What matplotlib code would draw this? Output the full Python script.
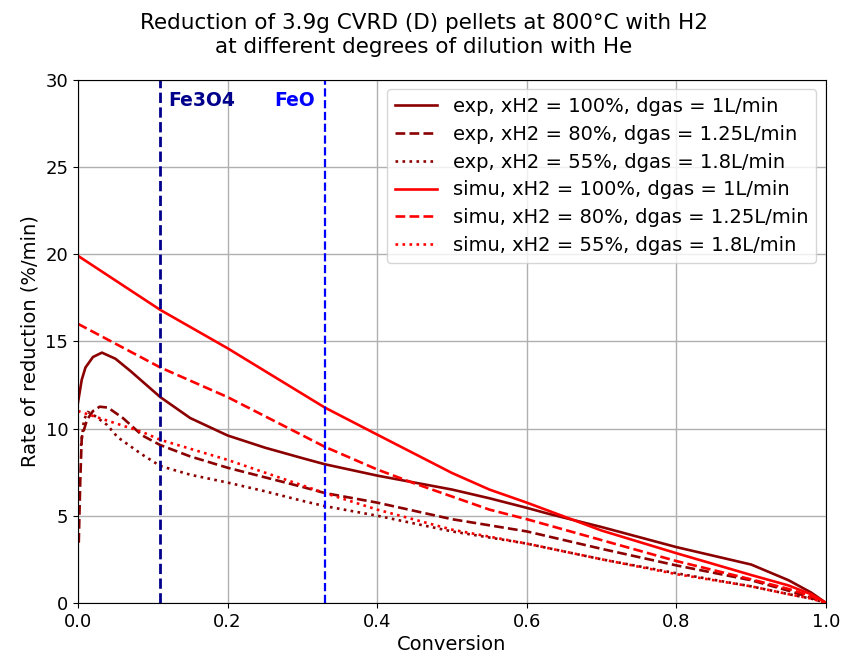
import matplotlib
matplotlib.use("Agg")
import matplotlib.pyplot as plt

# --- data ---
x_simu_100 = [0.0, 0.11, 0.2, 0.33, 0.4, 0.45, 0.5, 0.55, 0.6, 0.7, 0.8, 0.9, 0.95, 0.98, 1.0]
simu_100 = [19.9, 16.8, 14.6, 11.2, 9.65, 8.55, 7.45, 6.5, 5.75, 4.15, 2.85, 1.6, 1.0, 0.5, 0.0]

x_simu_80 = [0.0, 0.11, 0.2, 0.33, 0.4, 0.45, 0.5, 0.55, 0.6, 0.7, 0.8, 0.9, 0.95, 0.98, 1.0]
simu_80 = [16.0, 13.5, 11.8, 8.95, 7.65, 6.85, 6.1, 5.35, 4.8, 3.6, 2.4, 1.35, 0.8, 0.4, 0.0]

x_simu_55 = [0.0, 0.086, 0.11, 0.2, 0.33, 0.4, 0.5, 0.6, 0.7, 0.8, 0.9, 0.95, 0.98, 1.0]
simu_55 = [11.0, 9.8, 9.35, 8.2, 6.3, 5.35, 4.2, 3.4, 2.5, 1.65, 0.95, 0.5, 0.25, 0.0]

x_exp_100 = [0.0, 0.005, 0.01, 0.02, 0.032, 0.05, 0.07, 0.086, 0.11, 0.15, 0.2, 0.25, 0.3, 0.33,
             0.4, 0.45, 0.5, 0.55, 0.6, 0.63, 0.7, 0.8, 0.9, 0.95, 0.98, 1.0]
exp_100 = [11.5, 12.8, 13.5, 14.1, 14.35, 14.0, 13.3, 12.7, 11.8, 10.6, 9.6, 8.9, 8.3, 7.95,
           7.3, 6.9, 6.5, 6.0, 5.45, 5.1, 4.35, 3.2, 2.2, 1.3, 0.6, 0.0]

x_exp_80 = [0.001, 0.003, 0.005, 0.012, 0.02, 0.029, 0.04, 0.05, 0.06, 0.086, 0.11, 0.15, 0.2,
            0.25, 0.3, 0.33, 0.4, 0.5, 0.6, 0.7, 0.8, 0.9, 0.95, 0.98, 1.0]
exp_80 = [3.45, 7.0, 9.5, 10.5, 11.0, 11.25, 11.2, 10.9, 10.6, 9.6, 9.05, 8.4, 7.75,
          7.2, 6.65, 6.3, 5.75, 4.8, 4.1, 3.1, 2.15, 1.3, 0.7, 0.3, 0.0]

x_exp_55 = [0.004, 0.008, 0.013, 0.02, 0.039, 0.053, 0.086, 0.11, 0.15, 0.2, 0.25, 0.3, 0.33,
            0.4, 0.5, 0.6, 0.7, 0.8, 0.9, 0.95, 0.98, 1.0]
exp_55 = [9.0, 10.5, 10.95, 10.8, 10.2, 9.5, 8.5, 7.85, 7.35, 6.9, 6.4, 5.85, 5.55,
          5.0, 4.1, 3.4, 2.5, 1.7, 0.95, 0.5, 0.25, 0.0]

fe3o4_x = 0.11
feo_x = 0.33

labels = ["exp, xH2 = 100%, dgas = 1L/min",
          "exp, xH2 = 80%, dgas = 1.25L/min",
          "exp, xH2 = 55%, dgas = 1.8L/min",
          "simu, xH2 = 100%, dgas = 1L/min",
          "simu, xH2 = 80%, dgas = 1.25L/min",
          "simu, xH2 = 55%, dgas = 1.8L/min"]

fig = plt.figure(figsize=(8.48, 6.64), dpi=100)
ax = fig.add_axes([0.092, 0.092, 0.882, 0.788])

lw = 1.9
ax.plot(x_exp_100, exp_100, color="darkred", ls="-", lw=lw, label=labels[0])
ax.plot(x_exp_80, exp_80, color="darkred", ls="--", lw=lw, label=labels[1])
ax.plot(x_exp_55, exp_55, color="darkred", ls=":", lw=lw, label=labels[2])
ax.plot(x_simu_100, simu_100, color="red", ls="-", lw=lw, label=labels[3])
ax.plot(x_simu_80, simu_80, color="red", ls="--", lw=lw, label=labels[4])
ax.plot(x_simu_55, simu_55, color="red", ls=":", lw=lw, label=labels[5])

ax.axvline(fe3o4_x, color="darkblue", ls="--", lw=2)
ax.axvline(feo_x, color="blue", ls="--", lw=1.6)
ax.text(0.12, 28.8, "Fe3O4", color="darkblue", fontweight="bold", fontsize=13.5, va="center")
ax.text(0.262, 28.8, "FeO", color="blue", fontweight="bold", fontsize=13.5, va="center")

ax.set_xlim(0, 1)
ax.set_ylim(0, 30)
ax.set_xticks([0, 0.2, 0.4, 0.6, 0.8, 1.0])
ax.set_yticks([0, 5, 10, 15, 20, 25, 30])
ax.tick_params(labelsize=13)
ax.grid(True, color="#b0b0b0", lw=1)
ax.set_axisbelow(True)
ax.set_xlabel("Conversion", fontsize=14, labelpad=3)
ax.set_ylabel("Rate of reduction (%/min)", fontsize=14)
fig.suptitle("Reduction of 3.9g CVRD (D) pellets at 800°C with H2\nat different degrees of dilution with He",
             fontsize=15.5, x=0.5, y=0.98, va="top", linespacing=1.25)
ax.legend(loc="upper right", fontsize=14, handlelength=2.2, labelspacing=0.45,
          borderaxespad=0.5)

fig.savefig("out.png", dpi=100)
